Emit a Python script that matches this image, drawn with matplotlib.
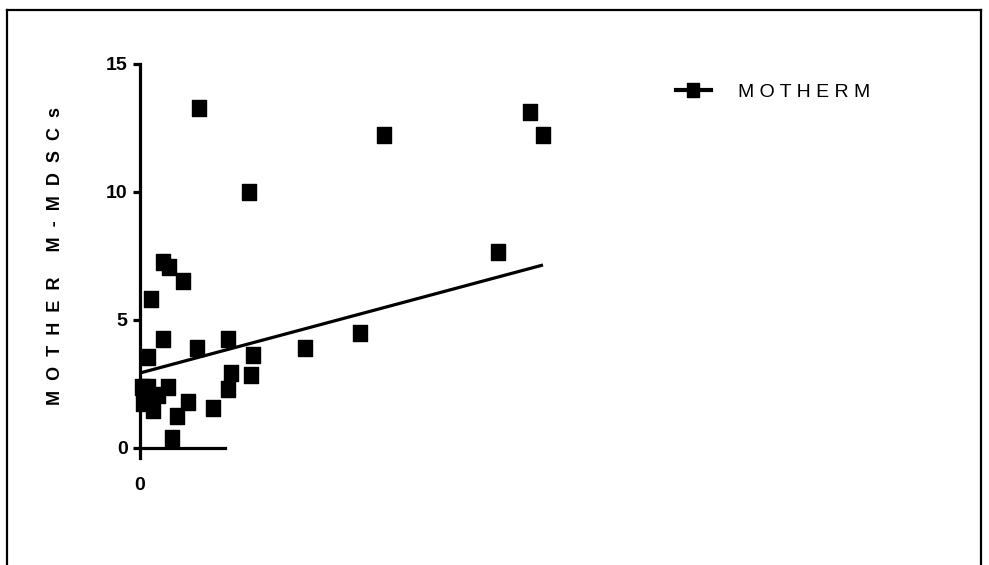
import numpy as np
import matplotlib.pyplot as plt
from matplotlib.lines import Line2D
from matplotlib.path import Path

# MOTHER M-MDSCs against the x variable (only the origin is labelled)
x_vals = [5.9, 24.4, 39.0, 40.3, 10.9, 35.8, 2.3, 2.9, 4.3, 1.1,
          2.3, 8.8, 5.7, 16.5, 22.0, 11.3, 0.8, 9.1, 11.1, 0.2,
          0.8, 2.8, 8.8, 1.8, 0.3, 4.8, 1.3, 7.3, 3.7, 3.2]
y_vals = [13.28, 12.23, 13.14, 12.23, 10.0, 7.67, 7.27, 7.07, 6.52, 5.82,
          4.26, 4.26, 3.91, 3.91, 4.50, 3.63, 3.55, 2.94, 2.85, 2.38,
          2.38, 2.40, 2.30, 2.07, 1.76, 1.78, 1.48, 1.56, 1.25, 0.39]

# regression line
fit_intercept = 2.93
fit_slope = 0.1047
fit_x = [0.0, 40.3]

y_ticks = [0, 5, 10, 15]
y_ticklabels = ["0", "5", "10", "15"]
x_ticks = [0]
x_ticklabels = ["0"]

W, H = 989, 565
fig = plt.figure(figsize=(W / 100, H / 100), dpi=100)
fig.patch.set_facecolor("white")

narrow = ["Liberation Sans Narrow", "Liberation Sans", "DejaVu Sans"]
wide = ["Liberation Sans", "DejaVu Sans"]

# axes placed in pixels: x=0 at 140px, y=0 at 448px, y=15 at 64px
left, right = 140, 560
y0, y15 = 448, 64
ax = fig.add_axes([left / W, (H - y0) / H, (right - left) / W, (y0 - y15) / H])
ax.set_xlim(0, 42)
ax.set_ylim(0, 15)

# slightly tall square marker
sq = Path([(-0.44, -0.5), (0.44, -0.5), (0.44, 0.5), (-0.44, 0.5), (-0.44, -0.5)],
          [Path.MOVETO, Path.LINETO, Path.LINETO, Path.LINETO, Path.CLOSEPOLY])

ax.plot(x_vals, y_vals, linestyle="none", marker=sq, markersize=11.5,
        color="black", clip_on=False, zorder=3)
fx = np.array(fit_x)
ax.plot(fx, fit_intercept + fit_slope * fx, color="black", lw=2.3,
        solid_capstyle="butt", clip_on=False, zorder=2)

for s in ["top", "right"]:
    ax.spines[s].set_visible(False)
ax.spines["left"].set_linewidth(2.3)
ax.spines["left"].set_bounds(-0.4, 15)
ax.spines["bottom"].set_linewidth(2.3)
ax.spines["bottom"].set_position(("data", 0))
ax.spines["bottom"].set_bounds(0, 8.5)

ax.set_yticks(y_ticks)
ax.set_yticklabels(y_ticklabels, family=narrow, fontweight="bold", fontsize=14)
ax.tick_params(axis="y", direction="out", length=5, width=2.3, pad=4)
ax.set_xticks(x_ticks)
ax.set_xticklabels(x_ticklabels, family=narrow, fontweight="bold", fontsize=14)
ax.tick_params(axis="x", length=0, pad=21)

ax.set_ylabel("M  O  T  H  E  R     M  -  M  D  S  C  s", family=wide,
              fontweight="bold", fontsize=13, labelpad=30)

handle = Line2D([], [], color="black", lw=3, marker=sq, markersize=10)
leg = fig.legend([handle], ["M O T H E R M"], loc="center left",
                 bbox_to_anchor=(658 / W, (H - 92) / H), frameon=False,
                 handlelength=1.8, handletextpad=1.4,
                 prop={"family": narrow, "size": 14})

# outer frame (top, left, right)
for xs, ys in [((7, 981), (10, 10)), ((7, 7), (10, H)), ((981, 981), (10, H))]:
    fig.add_artist(Line2D([x / W for x in xs], [1 - y / H for y in ys],
                          color="black", lw=1.6, transform=fig.transFigure))

fig.savefig("out.png", dpi=100)
